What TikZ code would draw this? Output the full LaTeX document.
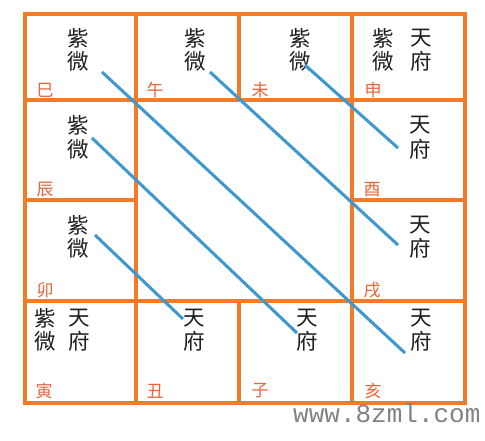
\documentclass[tikz,border=0pt]{standalone}
\usepackage{fontspec}
\newfontfamily\cjk{Noto Sans CJK SC}
\newfontfamily\wmfont{Liberation Mono}
\definecolor{frame}{RGB}{245,122,40}
\definecolor{lab}{RGB}{232,100,55}
\definecolor{blu}{RGB}{62,152,208}
\definecolor{txt}{RGB}{30,30,30}
\definecolor{wm}{RGB}{130,130,130}
\begin{document}
\begin{tikzpicture}[x=1pt,y=-1pt,
  gridline/.style={draw=frame,line width=4pt},
  star/.style={font=\cjk\fontsize{21.5}{21.5}\selectfont,text=txt,inner sep=0pt,anchor=center},
  branch/.style={font=\cjk\fontsize{17}{17}\selectfont,text=lab,inner sep=0pt,anchor=center},
  link/.style={draw=blu,line width=3pt}]
\useasboundingbox (0,0) rectangle (485,440);
\fill[white] (0,0) rectangle (485,440);
% grid
\draw[gridline] (25,14) rectangle (465,403);
\draw[gridline] (25,100) -- (465,100);
\draw[gridline] (25,301) -- (465,301);
\draw[gridline] (25,200) -- (135.5,200);
\draw[gridline] (352,200) -- (465,200);
\draw[gridline] (135.5,14) -- (135.5,403);
\draw[gridline] (352,14) -- (352,403);
\draw[gridline] (239,14) -- (239,100);
\draw[gridline] (239,301) -- (239,403);
% branch labels
\node[branch] (si) at (45,90) {巳};
\node[branch] (wu) at (155,90) {午};
\node[branch] (wei) at (260,90) {未};
\node[branch] (shen) at (373,90) {申};
\node[branch] (chen) at (45,190) {辰};
\node[branch] (you) at (372,190) {酉};
\node[branch] (mao) at (45,290) {卯};
\node[branch] (xu) at (372,290) {戌};
\node[branch] (yin) at (44,391) {寅};
\node[branch] (chou) at (155,391) {丑};
\node[branch] (zi) at (260,391) {子};
\node[branch] (hai) at (373,391) {亥};
% stars
\node[star] (z1) at (78,38) {紫}; \node[star] (w1) at (78,61) {微};
\node[star] (z2) at (195,38) {紫}; \node[star] (w2) at (195,61) {微};
\node[star] (z3) at (300,38) {紫}; \node[star] (w3) at (300,61) {微};
\node[star] (z4) at (383,38) {紫}; \node[star] (w4) at (383,61) {微};
\node[star] (t4) at (421,38) {天}; \node[star] (f4) at (421,61) {府};
\node[star] (z5) at (78,125) {紫}; \node[star] (w5) at (78,149) {微};
\node[star] (z6) at (78,225) {紫}; \node[star] (w6) at (78,248) {微};
\node[star] (t7) at (420,125) {天}; \node[star] (f7) at (420,149) {府};
\node[star] (t8) at (420,225) {天}; \node[star] (f8) at (420,248) {府};
\node[star] (z9) at (45,318) {紫}; \node[star] (w9) at (45,341) {微};
\node[star] (t9) at (79,318) {天}; \node[star] (f9) at (79,341) {府};
\node[star] (t10) at (194,318) {天}; \node[star] (f10) at (194,341) {府};
\node[star] (t11) at (307,318) {天}; \node[star] (f11) at (307,341) {府};
\node[star] (t12) at (421,318) {天}; \node[star] (f12) at (421,341) {府};
% link end points
\coordinate (a1) at (305,65); \coordinate (b1) at (398,148);
\coordinate (a2) at (210,72); \coordinate (b2) at (398,245);
\coordinate (a3) at (102,72); \coordinate (b3) at (405,353);
\coordinate (a4) at (92,138); \coordinate (b4) at (297,333);
\coordinate (a5) at (95,235); \coordinate (b5) at (183,319);
\draw[link] (a1) -- (b1);
\draw[link] (a2) -- (b2);
\draw[link] (a3) -- (b3);
\draw[link] (a4) -- (b4);
\draw[link] (a5) -- (b5);
% watermark
\node[font=\wmfont\fontsize{26}{26}\selectfont,text=wm,inner sep=0pt,anchor=base west] (mark) at (293,422) {www.8zml.com};
\end{tikzpicture}
\end{document}
